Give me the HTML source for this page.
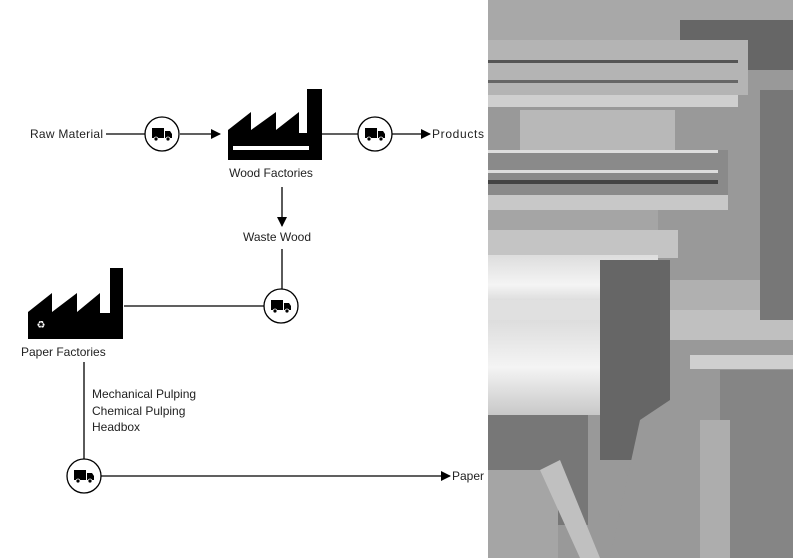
<!DOCTYPE html>
<html><head><meta charset="utf-8"><style>
html,body{margin:0;padding:0;background:#fff;width:793px;height:558px;overflow:hidden}
svg{display:block}
text{font-family:"Liberation Sans",sans-serif;font-size:12px;fill:#222}
</style></head><body>
<svg width="793" height="558" viewBox="0 0 793 558" xmlns="http://www.w3.org/2000/svg">
<defs>
<marker id="a" markerWidth="10" markerHeight="10" refX="9" refY="5" orient="auto" markerUnits="userSpaceOnUse"><path d="M0,0 L10,5 L0,10 Z" fill="#000"/></marker>
<linearGradient id="roll" x1="0" y1="0" x2="0" y2="1"><stop offset="0" stop-color="#ddd"/><stop offset="0.5" stop-color="#f4f4f4"/><stop offset="1" stop-color="#c8c8c8"/></linearGradient>
</defs>
<g stroke="#000" stroke-width="1.3" fill="none">
<line x1="106" y1="134" x2="145" y2="134"/>
<line x1="180" y1="134" x2="220" y2="134" marker-end="url(#a)"/>
<line x1="322" y1="134" x2="358" y2="134"/>
<line x1="392" y1="134" x2="430" y2="134" marker-end="url(#a)"/>
<line x1="282" y1="187" x2="282" y2="226" marker-end="url(#a)"/>
<line x1="282" y1="249" x2="282" y2="289"/>
<line x1="124" y1="306" x2="264" y2="306"/>
<line x1="84" y1="362" x2="84" y2="459"/>
<line x1="101" y1="476" x2="450" y2="476" marker-end="url(#a)"/>
<circle cx="162" cy="134" r="17" fill="#fff"/>
<circle cx="375" cy="134" r="17" fill="#fff"/>
<circle cx="281" cy="306" r="17" fill="#fff"/>
<circle cx="84" cy="476" r="17" fill="#fff"/>
</g>
<g fill="#000">
<g transform="translate(162,134)"><rect x="-10" y="-6" width="12" height="10"/><path d="M3,-3 H8 L10,0 V4 H3 Z"/><circle cx="-6" cy="5" r="2" stroke="#fff" stroke-width="0.8"/><circle cx="6" cy="5" r="2" stroke="#fff" stroke-width="0.8"/></g>
<g transform="translate(375,134)"><rect x="-10" y="-6" width="12" height="10"/><path d="M3,-3 H8 L10,0 V4 H3 Z"/><circle cx="-6" cy="5" r="2" stroke="#fff" stroke-width="0.8"/><circle cx="6" cy="5" r="2" stroke="#fff" stroke-width="0.8"/></g>
<g transform="translate(281,306)"><rect x="-10" y="-6" width="12" height="10"/><path d="M3,-3 H8 L10,0 V4 H3 Z"/><circle cx="-6" cy="5" r="2" stroke="#fff" stroke-width="0.8"/><circle cx="6" cy="5" r="2" stroke="#fff" stroke-width="0.8"/></g>
<g transform="translate(84,476)"><rect x="-10" y="-6" width="12" height="10"/><path d="M3,-3 H8 L10,0 V4 H3 Z"/><circle cx="-6" cy="5" r="2" stroke="#fff" stroke-width="0.8"/><circle cx="6" cy="5" r="2" stroke="#fff" stroke-width="0.8"/></g>
<path d="M228,160 V130 L251,112 V130 L276,112 V130 L299,112 V133 H307 V89 H322 V160 Z"/>
<rect x="233" y="146" width="76" height="4" fill="#fff"/>
<path d="M28,339 V312 L52,293 V312 L77,293 V312 L100,293 V313 H110 V268 H123 V339 Z"/>
<text x="41" y="328" text-anchor="middle" style="fill:#fff;font-size:10px">♻</text>
</g>
<text x="30" y="138" textLength="73">Raw Material</text>
<text x="432" y="138" textLength="52">Products</text>
<text x="271" y="177" text-anchor="middle">Wood Factories</text>
<text x="277" y="241" text-anchor="middle">Waste Wood</text>
<text x="21" y="356">Paper Factories</text>
<text x="92" y="398">Mechanical Pulping</text>
<text x="92" y="415">Chemical Pulping</text>
<text x="92" y="431">Headbox</text>
<text x="452" y="480">Paper</text>
<g>
<rect x="488" y="0" width="305" height="558" fill="#999"/>
<rect x="488" y="0" width="305" height="40" fill="#a8a8a8"/>
<rect x="680" y="20" width="113" height="50" fill="#666"/>
<rect x="488" y="40" width="260" height="55" fill="#b4b4b4"/>
<rect x="488" y="60" width="250" height="3" fill="#555"/>
<rect x="488" y="80" width="250" height="3" fill="#666"/>
<rect x="488" y="95" width="250" height="12" fill="#cfcfcf"/>
<rect x="520" y="110" width="155" height="40" fill="#b8b8b8"/>
<rect x="488" y="150" width="240" height="50" fill="#8a8a8a"/>
<rect x="488" y="150" width="230" height="3" fill="#ddd"/>
<rect x="488" y="170" width="230" height="3" fill="#ddd"/>
<rect x="488" y="180" width="230" height="4" fill="#444"/>
<rect x="488" y="195" width="240" height="15" fill="#c8c8c8"/>
<rect x="488" y="210" width="170" height="45" fill="#a5a5a5"/>
<rect x="488" y="230" width="190" height="28" fill="#c4c4c4"/>
<rect x="488" y="255" width="170" height="60" fill="url(#roll)"/>
<rect x="488" y="300" width="165" height="20" fill="#e0e0e0"/>
<rect x="488" y="320" width="125" height="95" fill="url(#roll)"/>
<rect x="488" y="415" width="100" height="110" fill="#777"/>
<rect x="488" y="470" width="70" height="88" fill="#a5a5a5"/>
<rect x="600" y="260" width="70" height="200" fill="#666"/>
<rect x="670" y="280" width="123" height="30" fill="#b0b0b0"/>
<rect x="670" y="310" width="123" height="30" fill="#c0c0c0"/>
<rect x="690" y="355" width="103" height="14" fill="#cfcfcf"/>
<rect x="760" y="90" width="33" height="230" fill="#777"/>
<rect x="720" y="370" width="73" height="188" fill="#858585"/>
<path d="M610,558 L640,420 L700,380 V558 Z" fill="#999"/>
<path d="M540,470 L580,558 H600 L560,460 Z" fill="#c0c0c0"/>
<rect x="700" y="420" width="30" height="138" fill="#adadad"/>
</g>
</svg>
</body></html>
